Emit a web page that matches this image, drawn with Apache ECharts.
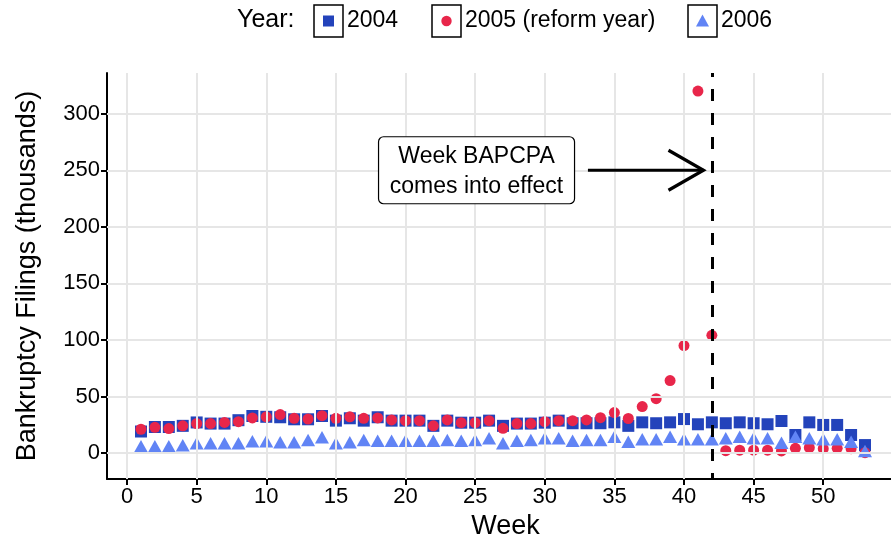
<!DOCTYPE html>
<html><head><meta charset="utf-8">
<script src="https://cdn.jsdelivr.net/npm/echarts@6/dist/echarts.min.js"></script>
<style>html,body{margin:0;padding:0;background:#fff}#c{width:891px;height:538px}</style>
</head><body><div id="c"></div>
<script>
const weeks = [1,2,3,4,5,6,7,8,9,10,11,12,13,14,15,16,17,18,19,20,21,22,23,24,25,26,27,28,29,30,31,32,33,34,35,36,37,38,39,40,41,42,43,44,45,46,47,48,49,50,51,52,53];
const filings2004 = [19,23,23,24,27,26,26,29,32.7,32,31.6,29.8,29.8,32.7,28.6,30.7,28.6,31.6,28.6,28.6,28.6,24,28.6,26.8,26.8,28.6,24,26,26,26.8,28.6,26.3,26.3,26.3,27.1,24,27.1,26.3,27.1,30,25.4,27.1,26.3,27.1,26.3,25.4,28.3,15.9,27.1,24.8,24.8,15.9,7];
const filings2005 = [21,22.7,21.6,24,26,26,27,27.7,31,32,34,30.7,30,33,30.7,32,30.7,31,29.2,28.6,28.6,24,29.2,26.8,26.8,28.6,21.8,26,26,27.7,28.6,28.6,29.2,31.2,35.7,30.5,41,48,64,95,320,104,2,2.5,2.5,2.5,1.8,4.1,4.7,3.8,4.1,3.8,0.3];
const filings2006 = [6,6,6,6.8,8.6,8.6,8.6,8.6,10.3,10.3,9.5,9.5,11.5,13.9,8.6,9.5,11.5,10.9,10.9,10.9,10.9,10.9,11.5,10.9,11.5,13,8.6,10.9,11.5,13,13,10.9,11.5,11.5,14.4,10,12.1,12.1,14.4,12.1,12.1,12.1,13,14.4,13,13,9.1,14.4,13,12.1,12.1,10,1.8];
const xTicks = [0,5,10,15,20,25,30,35,40,45,50];
const yTicks = [0,50,100,150,200,250,300];
const seriesNames = ['2004','2005 (reform year)','2006'];
const reformWeek = 42;
const noteLines = ['Week BAPCPA','comes into effect'];
const noteAnchor = [25.1, 250];
const arrowFrom = [33.1, 250];
const arrowTo = [41.4, 250];

const FONT = 'Liberation Sans, Arial, sans-serif';
const C04 = '#2343bb', C05 = '#e8264a', C06 = '#6184f5';
const pair = (xs, ys) => xs.map((x, i) => [x, ys[i]]);

const chart = echarts.init(document.getElementById('c'), null, {renderer: 'canvas'});
const base = {
  animation: false,
  backgroundColor: '#fff',
  textStyle: {fontFamily: FONT},
  grid: {left: 107, right: -13, top: 73, bottom: 59, containLabel: false, outerBoundsMode: 'none'},
  xAxis: {
    type: 'value', min: -1.44, max: 55.8,
    name: 'Week', nameLocation: 'middle', nameGap: 30,
    nameTextStyle: {fontSize: 27, color: '#000', fontFamily: FONT},
    axisLine: {onZero: false, lineStyle: {color: '#000', width: 2}},
    axisTick: {customValues: xTicks, length: 6, lineStyle: {color: '#000', width: 2}},
    axisLabel: {customValues: xTicks, fontSize: 22, color: '#000', margin: 7, fontFamily: FONT},
    splitLine: {show: false}
  },
  yAxis: {
    type: 'value', min: -23, max: 336,
    name: 'Bankruptcy Filings (thousands)', nameLocation: 'middle', nameGap: 66,
    nameTextStyle: {fontSize: 27, color: '#000', fontFamily: FONT},
    axisLine: {onZero: false, lineStyle: {color: '#000', width: 2}},
    axisTick: {customValues: yTicks, length: 6, lineStyle: {color: '#000', width: 2}},
    axisLabel: {customValues: yTicks, fontSize: 22, color: '#000', margin: 7, fontFamily: FONT},
    splitLine: {show: false}
  },
  series: [
    {
      type: 'line', name: 'grid', data: [], z: 0, silent: true,
      markLine: {
        silent: true, symbol: 'none', animation: false,
        label: {show: false},
        lineStyle: {color: '#e6e6e6', width: 2, type: 'solid'},
        data: xTicks.map(v => ({xAxis: v})).concat(yTicks.map(v => ({yAxis: v})))
      }
    },
    {type: 'scatter', name: seriesNames[0], data: pair(weeks, filings2004), symbol: 'rect', symbolSize: 12, itemStyle: {color: C04, opacity: 1}, z: 2},
    {type: 'scatter', name: seriesNames[1], data: pair(weeks, filings2005), symbol: 'circle', symbolSize: 11, itemStyle: {color: C05, opacity: 1}, z: 3},
    {type: 'scatter', name: seriesNames[2], data: pair(weeks, filings2006), symbol: 'triangle', symbolSize: [14, 12.5], itemStyle: {color: C06, opacity: 1}, z: 4},
    {
      type: 'line', name: 'reform', data: [], z: 5, silent: true,
      markLine: {
        silent: true, symbol: 'none', animation: false,
        label: {show: false},
        lineStyle: {color: '#000', width: 3, type: [12, 12], dashOffset: 6},
        data: [{xAxis: reformWeek}]
      }
    }
  ]
};
chart.setOption(base);

const p0 = chart.convertToPixel({gridIndex: 0}, noteAnchor);
const a0 = chart.convertToPixel({gridIndex: 0}, arrowFrom);
const a1 = chart.convertToPixel({gridIndex: 0}, arrowTo);
const boxW = 196, boxH = 67;
const legY = 21;
const legendItems = [
  {x: 314, sym: 'rect', color: C04, text: seriesNames[0]},
  {x: 432, sym: 'circle', color: C05, text: seriesNames[1]},
  {x: 688, sym: 'tri', color: C06, text: seriesNames[2]}
];
const graphics = [
  {type: 'text', left: 237, top: legY - 13, style: {text: 'Year:', font: '25px ' + FONT, fill: '#000'}}
];
legendItems.forEach(it => {
  graphics.push({type: 'rect', shape: {x: it.x, y: legY - 16, width: 29, height: 32}, style: {fill: '#fff', stroke: '#000', lineWidth: 1.5}});
  const cx = it.x + 14.5, cy = legY;
  if (it.sym === 'rect') graphics.push({type: 'rect', shape: {x: cx - 5.5, y: cy - 5.5, width: 11, height: 11}, style: {fill: it.color}});
  else if (it.sym === 'circle') graphics.push({type: 'circle', shape: {cx: cx, cy: cy, r: 5.2}, style: {fill: it.color}});
  else graphics.push({type: 'polygon', shape: {points: [[cx, cy - 6.5], [cx + 6.5, cy + 5.5], [cx - 6.5, cy + 5.5]]}, style: {fill: it.color}});
  graphics.push({type: 'text', x: it.x + 33, y: cy, style: {text: it.text, font: '23px ' + FONT, fill: '#000', verticalAlign: 'middle'}});
});
graphics.push({type: 'rect', shape: {x: p0[0] - boxW / 2, y: p0[1] - boxH / 2, width: boxW, height: boxH, r: 5}, style: {fill: '#fff', stroke: '#000', lineWidth: 1.2}, z: 10});
graphics.push({type: 'text', x: p0[0], y: p0[1] - 14, style: {text: noteLines[0], font: '23px ' + FONT, fill: '#000', align: 'center', verticalAlign: 'middle'}, z: 11});
graphics.push({type: 'text', x: p0[0], y: p0[1] + 16, style: {text: noteLines[1], font: '23px ' + FONT, fill: '#000', align: 'center', verticalAlign: 'middle'}, z: 11});
graphics.push({type: 'line', shape: {x1: a0[0], y1: a0[1], x2: a1[0], y2: a1[1]}, style: {stroke: '#000', lineWidth: 3.2}, z: 10});
graphics.push({type: 'polyline', shape: {points: [[a1[0] - 35, a1[1] - 20], [a1[0], a1[1]], [a1[0] - 35, a1[1] + 20]]}, style: {stroke: '#000', lineWidth: 3.2, fill: null}, z: 10});
chart.setOption({graphic: graphics});
</script></body></html>
